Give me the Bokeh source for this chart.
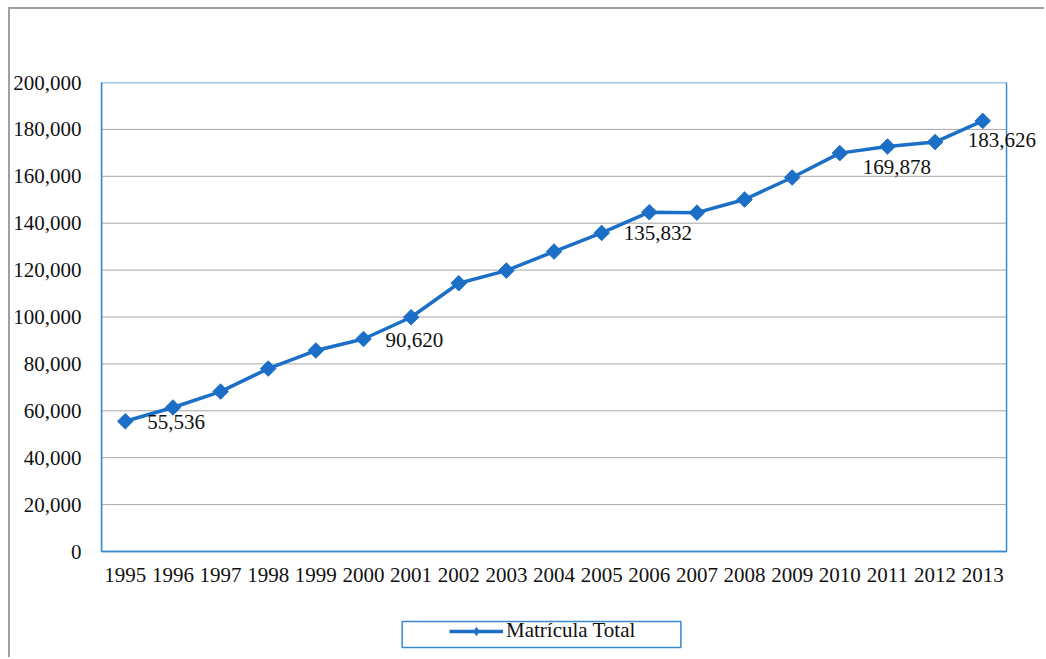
from bokeh.plotting import figure
from bokeh.models import (ColumnDataSource, Legend, LegendItem, NumeralTickFormatter,
                          BoxAnnotation, FixedTicker, Range1d)
from bokeh.core.properties import value
from bokeh.embed import file_html
from bokeh.resources import INLINE
import math

# ---- data ----
years = [str(y) for y in range(1995, 2014)]
matricula = [55536, 61400, 68200, 78000, 85700, 90620, 99900, 114400, 119800, 127900,
             135832, 144700, 144500, 150100, 159500, 169878, 172700, 174600, 183626]
label_years = ["1995", "2000", "2005", "2010", "2013"]
label_values = [55536, 90620, 135832, 169878, 183626]
y_ticks = [0, 20000, 40000, 60000, 80000, 100000, 120000, 140000, 160000, 180000, 200000]
series_name = "Matrícula Total"

FONT = "Liberation Serif"
FS = "21px"
BLUE = "#1c6fc6"
FRAME_BLUE = "#3a8ad0"
GRID = "#a6a6a6"
TXT = "#111111"

# ---- geometry (screen pixels of the canvas) ----
CW, CH = 1036, 650            # canvas size
FL, FT = 90, 73               # frame left / top inside canvas (frame runs to canvas right/bottom)
PLOT_W, PLOT_H = 906, 469     # visible plot-area size
n = len(years)
ymax = y_ticks[-1]
px_x = PLOT_W / n
px_y = PLOT_H / ymax
x_start = -0.5
x_end = x_start + (CW - FL) / px_x
y_end = ymax
y_start = ymax - (CH - FT) / px_y

def sx_to_data(sx_canvas):
    return x_start + (sx_canvas - FL) / px_x

def sy_to_data(sy_canvas):
    return ymax - (sy_canvas - FT) / px_y

p = figure(x_range=Range1d(x_start, x_end), y_range=Range1d(y_start, y_end),
           width=CW, height=CH, x_axis_location="above",
           output_backend="svg", toolbar_location=None,
           min_border_left=FL, min_border_right=0, min_border_top=FT, min_border_bottom=0)
p.styles = {"margin-left": "8px", "margin-top": "7px",
            "border-left": "2px solid #a0a0a0", "border-top": "2px solid #a0a0a0"}

xs = list(range(n))

# gridlines and plot-area box
grid_y = y_ticks[1:-1]
p.segment(x0=[x_start] * len(grid_y), x1=[x_start + n] * len(grid_y), y0=grid_y, y1=grid_y,
          line_color=GRID, line_width=1)
p.quad(left=[x_start], right=[x_start + n], bottom=[0], top=[ymax],
       fill_alpha=0, line_color=FRAME_BLUE, line_width=1.5)

src = ColumnDataSource(dict(x=xs, y=matricula))
ln = p.line("x", "y", source=src, line_color=BLUE, line_width=3.5)
mk = p.scatter("x", "y", source=src, marker="square", angle=math.pi / 4, size=11,
               fill_color=BLUE, line_color=BLUE)
# legend-only diamond (no visible point in the plot)
lg_mk = p.scatter(x=[0], y=[float("nan")], marker="diamond", size=17,
                  fill_color=BLUE, line_color=BLUE)

lab_src = ColumnDataSource(dict(x=[years.index(y) for y in label_years], y=label_values,
                                t=[f"{v:,}" for v in label_values],
                                xo=[22, 22, 22, 23, -15], yo=[1, 1, 0, 14, 19]))
p.text("x", "y", text="t", source=lab_src, x_offset="xo", y_offset="yo",
       text_font=value(FONT), text_font_size=FS, text_color=TXT,
       text_align="left", text_baseline="middle")

# axes
p.yaxis.ticker = FixedTicker(ticks=y_ticks)
p.yaxis.formatter = NumeralTickFormatter(format="0,0")
p.yaxis.bounds = (0, ymax)
p.xaxis.ticker = FixedTicker(ticks=xs)
p.xaxis.major_label_overrides = {i: y for i, y in enumerate(years)}
p.xaxis.fixed_location = 0
p.xaxis.bounds = (x_start, x_start + n)
for ax in (p.xaxis[0], p.yaxis[0]):
    ax.major_label_text_font = FONT
    ax.major_label_text_font_size = FS
    ax.major_label_text_color = TXT
    ax.major_tick_line_color = None
    ax.minor_tick_line_color = None
    ax.axis_line_color = FRAME_BLUE
    ax.axis_line_width = 1.5
p.yaxis.major_label_standoff = 14
p.xaxis.major_label_standoff = -36

p.xgrid.grid_line_color = None
p.ygrid.grid_line_color = None
p.outline_line_color = None

# legend (box in canvas px: 391..670 x 612..638)
legend = Legend(items=[LegendItem(label=series_name, renderers=[ln, lg_mk])],
                location=(438 - FL, CH - 634), orientation="horizontal",
                label_text_font=FONT, label_text_font_size=FS, label_text_color=TXT,
                glyph_width=54, glyph_height=20, label_height=20, label_standoff=3, padding=0,
                border_line_alpha=0, background_fill_alpha=0, margin=0, spacing=0)
p.add_layout(legend, "center")

box = BoxAnnotation(left=sx_to_data(391), right=sx_to_data(670),
                    top=sy_to_data(612), bottom=sy_to_data(638),
                    fill_alpha=0, line_color=FRAME_BLUE, line_alpha=1, line_width=1.5)
p.add_layout(box)

p.background_fill_color = "white"
p.border_fill_color = "white"

open("out.html", "w").write(file_html(p, INLINE))
